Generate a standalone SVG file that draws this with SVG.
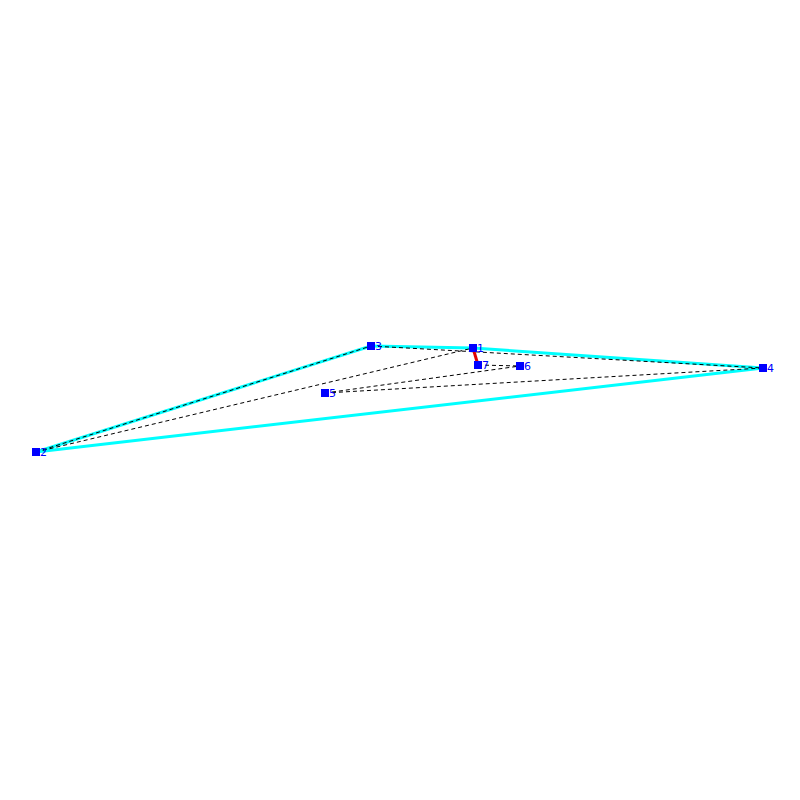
<svg xmlns="http://www.w3.org/2000/svg" width="800" height="800" viewBox="0 0 800 800">
<style>
.hull{stroke:#00ffff;stroke-width:3;fill:none}
.d{stroke:#000;stroke-width:1;stroke-dasharray:4,3;fill:none}
.r{stroke:#e00000;stroke-width:3;fill:none}
.n rect{fill:#0000ff}
.n text{fill:#0000ff;font-family:"DejaVu Sans","Liberation Sans",sans-serif;font-size:11px}
</style>
<rect width="800" height="800" fill="#fff"/>
<g id="connectors">
<line class="hull" x1="36" y1="452" x2="371" y2="346"/>
<line class="hull" x1="371" y1="346" x2="473" y2="348"/>
<line class="hull" x1="473" y1="348" x2="763" y2="368"/>
<line class="hull" x1="763" y1="368" x2="36" y2="452"/>
<line class="d" x1="36" y1="452" x2="371" y2="346"/>
<line class="d" x1="371" y1="346" x2="763" y2="368"/>
<line class="d" x1="36" y1="452" x2="473" y2="348"/>
<line class="d" x1="325" y1="393" x2="520" y2="366"/>
<line class="d" x1="325" y1="393" x2="763" y2="368"/>
<line class="d" x1="478" y1="365" x2="520" y2="366"/>
<line class="r" x1="473" y1="348" x2="478" y2="365"/>
</g>
<g id="n1" class="n"><rect x="469" y="344" width="8" height="8"/><text x="477" y="352">1</text></g>
<g id="n2" class="n"><rect x="32" y="448" width="8" height="8"/><text x="40" y="456">2</text></g>
<g id="n3" class="n"><rect x="367" y="342" width="8" height="8"/><text x="375" y="350">3</text></g>
<g id="n4" class="n"><rect x="759" y="364" width="8" height="8"/><text x="767" y="372">4</text></g>
<g id="n5" class="n"><rect x="321" y="389" width="8" height="8"/><text x="329" y="397">5</text></g>
<g id="n6" class="n"><rect x="516" y="362" width="8" height="8"/><text x="524" y="370">6</text></g>
<g id="n7" class="n"><rect x="474" y="361" width="8" height="8"/><text x="482" y="369">7</text></g>
</svg>
